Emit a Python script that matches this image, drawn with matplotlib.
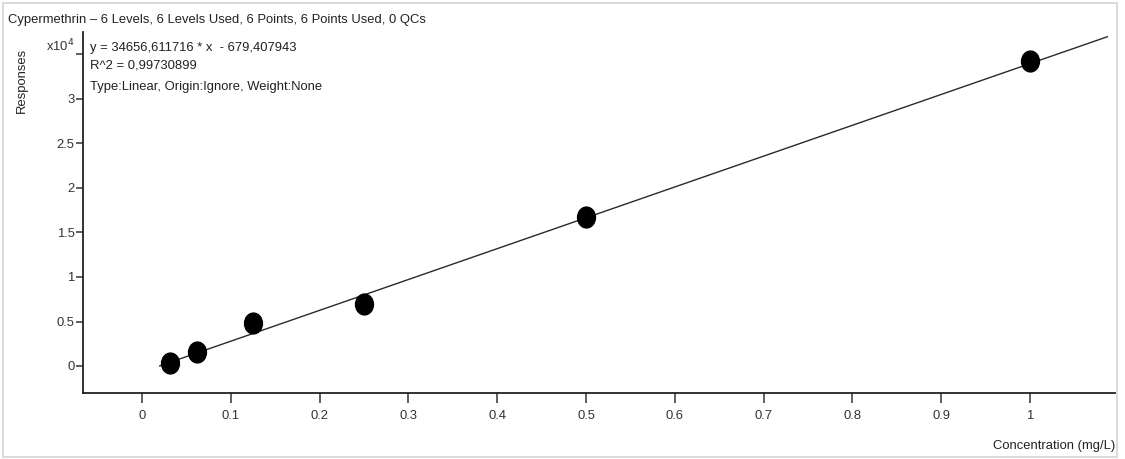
import numpy as np
import matplotlib
matplotlib.use("Agg")
from matplotlib import pyplot as plt
from matplotlib.path import Path
from matplotlib.transforms import Affine2D
from matplotlib.patches import Rectangle
from matplotlib import font_manager

# calibration data
conc = [0.03125, 0.0625, 0.125, 0.25, 0.5, 1.0]
resp = [340, 1570, 4800, 7000, 16700, 34270]
slope = 34656.611716
intercept = -679.407943
fit_range = [0.02, 1.087]

xticks = [0, 0.1, 0.2, 0.3, 0.4, 0.5, 0.6, 0.7, 0.8, 0.9, 1]
xticklabels = ["0", "0.1", "0.2", "0.3", "0.4", "0.5", "0.6", "0.7", "0.8", "0.9", "1"]
yticks = [0, 0.5, 1, 1.5, 2, 2.5, 3, 3.5]
yticklabels = ["0", "0.5", "1", "1.5", "2", "2.5", "3", "x10$^4$"]

title = "Cypermethrin \u2013 6 Levels, 6 Levels Used, 6 Points, 6 Points Used, 0 QCs"
eq_lines = ["y = 34656,611716 * x  - 679,407943",
            "R^2 = 0,99730899",
            "Type:Linear, Origin:Ignore, Weight:None"]

names = {f.name for f in font_manager.fontManager.ttflist}
fam = "Liberation Sans Narrow" if "Liberation Sans Narrow" in names else "Liberation Sans"
plt.rcParams['font.family'] = [fam, 'DejaVu Sans']
fs = 10.5 if fam == "Liberation Sans Narrow" else 9.4

W, H = 1125, 459
fig = plt.figure(figsize=(W / 100, H / 100), dpi=100)

def px(x, y):
    return x / W, 1 - y / H

# light outer frame
fig.patches.append(Rectangle(px(3, 457), 1114 / W, 454 / H, transform=fig.transFigure,
                             fill=False, edgecolor="#d4d4d4", linewidth=1.2))

l, b = px(83, 393)
r, t = px(1115, 32)
ax = fig.add_axes([l, b, r - l, t - b])

# elliptic marker, a bit taller than wide
ell = Path.unit_circle().transformed(Affine2D().scale(0.86, 1.0))

xs = np.array(fit_range)
ax.plot(xs, (slope * xs + intercept) / 1e4, color="#2a2a2a", lw=1.0, zorder=2)
ax.plot(np.array(conc), np.array(resp) / 1e4, linestyle="none", marker=ell,
        markersize=15, color="black", zorder=3)

ax.set_xlim(-0.0664, 1.0957)
ax.set_ylim(-(393 - 366) / 89.0, (366 - 32) / 89.0)

ax.set_xticks(xticks)
ax.set_xticklabels(xticklabels)
ax.set_yticks(yticks)
ax.set_yticklabels(yticklabels)

for s in ["top", "right"]:
    ax.spines[s].set_visible(False)
for s in ["left", "bottom"]:
    ax.spines[s].set_linewidth(1.3)
    ax.spines[s].set_color("#222222")

ax.tick_params(axis="x", length=7, width=1.1, color="#333333", labelsize=fs,
               labelcolor="#333333", pad=5)
ax.tick_params(axis="y", length=5, width=1.1, color="#333333", labelsize=fs,
               labelcolor="#333333", pad=1)
# the exponent label sits a little above its tick
ax.get_yticklabels()[-1].set_verticalalignment("bottom")

fig.text(*px(8, 20), title, fontsize=fs, color="#222222", va="center", ha="left")
for i, line in enumerate(eq_lines):
    fig.text(*px(90, [48, 66, 87][i]), line, fontsize=fs, color="#222222",
             va="center", ha="left")
fig.text(*px(22, 80), "Responses", fontsize=fs, color="#222222", rotation=90,
         va="center", ha="center")
fig.text(*px(1115, 446), "Concentration (mg/L)", fontsize=fs, color="#222222",
         va="center", ha="right")

fig.savefig("out.png", dpi=100)
